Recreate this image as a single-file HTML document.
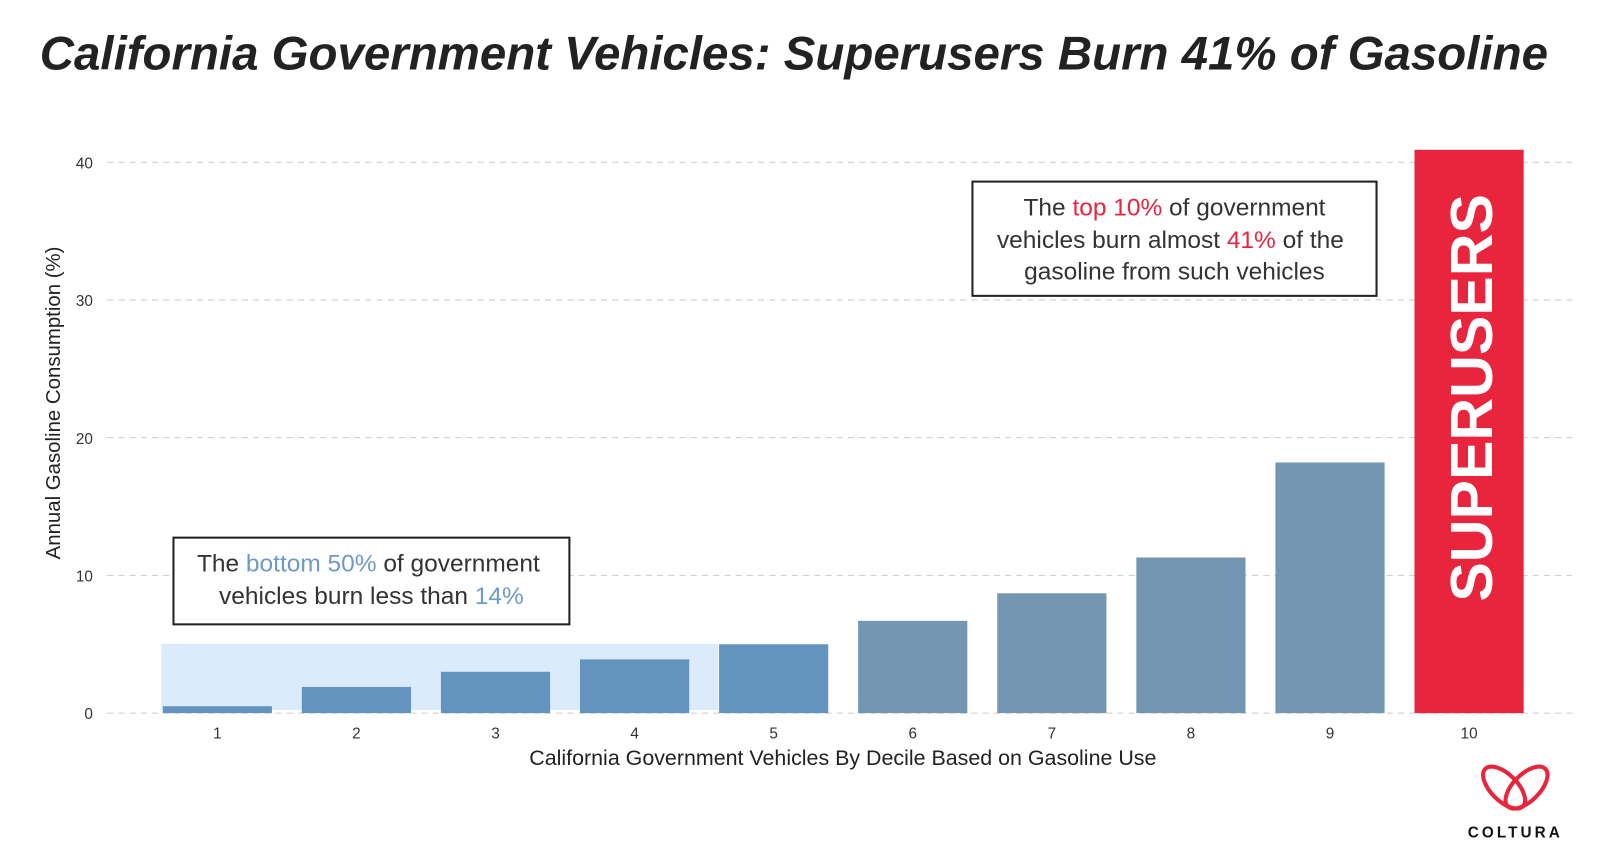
<!DOCTYPE html>
<html><head><meta charset="utf-8">
<style>
body{margin:0;background:#fff;width:1600px;height:859px;overflow:hidden;font-family:"Liberation Sans",sans-serif}
</style></head>
<body>
<svg id="chart" width="1600" height="859" viewBox="0 0 1568 842" preserveAspectRatio="none" xmlns="http://www.w3.org/2000/svg">
<text x="778" y="68" text-anchor="middle" font-family="Liberation Sans" font-weight="bold" font-style="italic" font-size="46" textLength="1478" lengthAdjust="spacingAndGlyphs" fill="#222">California Government Vehicles: Superusers Burn 41% of Gasoline</text>
<g id="grid"></g>
<rect x="158" y="631" width="546" height="65" fill="#dcebfb"/>
<g id="bars"></g>
<g id="xt"></g>
<text transform="translate(59,395) rotate(-90)" text-anchor="middle" font-size="20" fill="#222">Annual Gasoline Consumption (%)</text>
<text x="826" y="750" text-anchor="middle" font-size="21" fill="#222">California Government Vehicles By Decile Based on Gasoline Use</text>
<text transform="translate(1462,390) rotate(-90)" text-anchor="middle" font-weight="bold" font-size="58" fill="#fff">SUPERUSERS</text>
<g>
<rect x="953" y="178" width="396" height="112" fill="#fff" stroke="#222" stroke-width="2"/>
<text x="1151" y="211" text-anchor="middle" font-size="24" fill="#333">The <tspan fill="#e8253d">top 10%</tspan> of government</text>
<text x="1147" y="243" text-anchor="middle" font-size="24" fill="#333">vehicles burn almost <tspan fill="#e8253d">41%</tspan> of the</text>
<text x="1151" y="274" text-anchor="middle" font-size="24" fill="#333">gasoline from such vehicles</text>
</g>
<g>
<rect x="170" y="527" width="388" height="85" fill="#fff" stroke="#222" stroke-width="2"/>
<text x="361" y="560" text-anchor="middle" font-size="24" fill="#333">The <tspan fill="#6d9ac6">bottom 50%</tspan> of government</text>
<text x="364" y="592" text-anchor="middle" font-size="24" fill="#333">vehicles burn less than <tspan fill="#6d9ac6">14%</tspan></text>
</g>
<g>
<ellipse cx="1474" cy="772" rx="26" ry="13" transform="rotate(45 1474 772)" fill="none" stroke="#e8253d" stroke-width="4"/>
<ellipse cx="1496" cy="772" rx="26" ry="13" transform="rotate(-45 1496 772)" fill="none" stroke="#e8253d" stroke-width="4"/>
<text x="1485" y="821" text-anchor="middle" font-weight="bold" font-size="15" letter-spacing="3" fill="#111">COLTURA</text>
</g>
</svg>
<script>
const categories=["1","2","3","4","5","6","7","8","9","10"];
const values=[0.5,1.9,3.0,3.9,5.0,6.7,8.7,11.3,18.2,40.9];
const yTicks=[0,10,20,30,40];
const NS="http://www.w3.org/2000/svg";
const y=v=>699-v*13.5;
const x=i=>213+i*136.3;
const bw=107;
function mk(t,a,p){const e=document.createElementNS(NS,t);for(const k in a)e.setAttribute(k,a[k]);p.appendChild(e);return e;}
const grid=document.getElementById('grid');
yTicks.forEach(t=>{
 const l=mk('line',{x1:105,x2:1545,y1:y(t),y2:y(t),stroke:'#ccc','stroke-dasharray':'6,5'},grid);
 
 
 const tx=mk('text',{x:91,y:y(t)+6,'text-anchor':'end','font-size':15,fill:'#333'},grid);
 tx.textContent=t;
 
 
});
const bars=document.getElementById('bars'),xt=document.getElementById('xt');
values.forEach((v,i)=>{
 const col=i<5?'#6393bf':(i<9?'#7396b2':'#e8253d');
 const r=mk('rect',{x:x(i)-bw/2,y:y(v),width:bw,height:y(0)-y(v),fill:col},bars);
 
 
 const t=mk('text',{x:x(i),y:724,'text-anchor':'middle','font-size':15,fill:'#333'},xt);
 t.textContent=categories[i];
 
 
});
</script>
</body></html>
